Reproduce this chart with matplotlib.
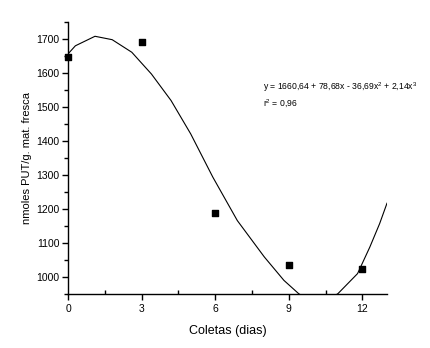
import numpy as np
import matplotlib
matplotlib.use("Agg")
import matplotlib.pyplot as plt
from matplotlib.ticker import MultipleLocator

# measured points
dias = [0, 3, 6, 9, 12]
put = [1648, 1690, 1188, 1035, 1025]

# fitted cubic
fit_x = [0, 0.3, 1.1, 1.8, 2.6, 3.4, 4.2, 5.0, 5.9, 6.9, 8.0, 8.8, 9.4,
         10.2, 11.0, 11.8, 12.3, 12.7, 13.0]
fit_y = [1656, 1680, 1708, 1698, 1661, 1597, 1519, 1421, 1294, 1166, 1059,
         990, 951, 915, 951, 1010, 1088, 1157, 1217]

eq_text = "y = 1660,64 + 78,68x - 36,69x$^2$ + 2,14x$^3$"
r2_text = "r$^2$ = 0,96"

plt.rcParams['font.family'] = ['Liberation Sans', 'DejaVu Sans']
plt.rcParams['mathtext.fontset'] = 'custom'
plt.rcParams['mathtext.rm'] = 'Liberation Sans'

fig = plt.figure(figsize=(4.3, 3.48), dpi=100)
ax = fig.add_axes([68 / 430, 54 / 348, 319 / 430, 272 / 348])

ax.plot(fit_x, fit_y, color='black', lw=0.8)
ax.scatter(dias, put, marker='s', s=13, color='black', zorder=3, clip_on=False)

ax.set_xlim(0, 13)
ax.set_ylim(950, 1750)
ax.xaxis.set_major_locator(MultipleLocator(3))
ax.xaxis.set_minor_locator(MultipleLocator(1.5))
ax.yaxis.set_major_locator(MultipleLocator(100))
ax.yaxis.set_minor_locator(MultipleLocator(50))
ax.set_yticks([1000, 1100, 1200, 1300, 1400, 1500, 1600, 1700])

for s in ['top', 'right']:
    ax.spines[s].set_visible(False)
for s in ['left', 'bottom']:
    ax.spines[s].set_linewidth(1.0)

ax.tick_params(axis='x', which='major', direction='out', length=4, width=1, labelsize=7.5, pad=3)
ax.tick_params(axis='x', which='minor', direction='in', length=3, width=1)
ax.tick_params(axis='y', which='major', direction='out', length=4, width=1, labelsize=7.5, pad=2)
ax.tick_params(axis='y', which='minor', direction='out', length=3, width=1)

ax.set_xlabel("Coletas (dias)", fontsize=9, labelpad=8)
ax.set_ylabel("nmoles PUT/g. mat. fresca", fontsize=8, labelpad=3)

# equation placed in pixel coords (origin bottom-left)
ax.text(263, 348 - 87, eq_text, transform=None, fontsize=6.2, va='center')
ax.text(263, 348 - 104, r2_text, transform=None, fontsize=6.2, va='center')

fig.savefig("out.png", dpi=100)
